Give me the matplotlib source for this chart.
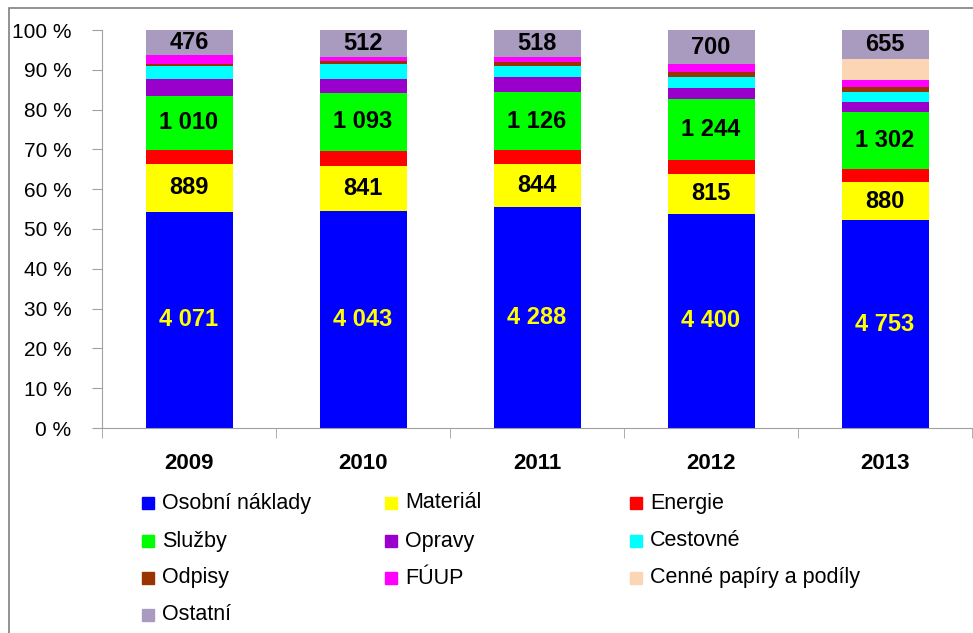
import numpy as np
import matplotlib.pyplot as plt
from matplotlib.patches import Rectangle

# naklady podle druhu (absolutni hodnoty, graf je 100% skladany)
years = ['2009', '2010', '2011', '2012', '2013']
osobni = [4071, 4043, 4288, 4400, 4753]
material = [889, 841, 844, 815, 880]
energie = [276, 275, 263, 288, 290]
sluzby = [1010, 1093, 1126, 1244, 1302]
opravy = [314, 261, 300, 226, 251]
cestovne = [239, 267, 206, 220, 229]
odpisy = [52, 55, 85, 115, 105]
fuup = [157, 70, 97, 158, 153]
cenne = [0, 0, 0, 0, 496]
ostatni = [476, 512, 518, 700, 655]

names = ['Osobní náklady', 'Materiál', 'Energie', 'Služby', 'Opravy',
         'Cestovné', 'Odpisy', 'FÚUP', 'Cenné papíry a podíly', 'Ostatní']
series = [osobni, material, energie, sluzby, opravy, cestovne, odpisy,
          fuup, cenne, ostatni]
colors = ['#0000FF', '#FFFF00', '#FF0000', '#00FF00', '#9900CC', '#00FFFF',
          '#993300', '#FF00FF', '#FCD5B5', '#A99BC0']
labeled = {0: '#FFFF00', 1: 'black', 3: 'black', 9: 'black'}

plt.rcParams['font.family'] = ['Liberation Sans', 'DejaVu Sans']

data = np.array(series, dtype=float)
pct = data / data.sum(axis=0) * 100
x = np.arange(len(years))

fig = plt.figure(figsize=(9.73, 6.33), dpi=100)
ax = fig.add_axes([102/973, 1 - 428/633, 870/973, 398/633])

bottom = np.zeros(len(years))
for i, (name, col) in enumerate(zip(names, colors)):
    ax.bar(x, pct[i], 0.5, bottom=bottom, color=col, label=name, linewidth=0)
    if i in labeled:
        for j in range(len(years)):
            txt = f'{int(data[i, j]):,}'.replace(',', ' ')
            ax.text(x[j], bottom[j] + pct[i, j] / 2, txt, ha='center', va='center',
                    fontsize=17, fontweight='bold', color=labeled[i])
    bottom += pct[i]

ax.set_xlim(-0.5, len(years) - 0.5)
ax.set_ylim(0, 100)
ax.set_yticks(np.arange(0, 101, 10))
ax.set_yticklabels([f'{t} %' for t in range(0, 101, 10)], fontsize=15)
ax.set_xticks(x)
ax.set_xticklabels(years, fontsize=16, fontweight='bold')
ax.set_xticks(np.arange(-0.5, len(years)), minor=True)
ax.tick_params(axis='x', which='major', length=0, pad=18)
ax.tick_params(axis='x', which='minor', length=7, color='#A0A0A0', direction='out')
ax.tick_params(axis='y', length=7, color='#A0A0A0', pad=15)
for s in ['top', 'right']:
    ax.spines[s].set_visible(False)
for s in ['left', 'bottom']:
    ax.spines[s].set_color('#A0A0A0')

# legenda po radcich jako v Excelu
col_x = [142, 385, 630]
row_y = [503, 541, 578, 615]
for i, (name, col) in enumerate(zip(names, colors)):
    r, c = divmod(i, 3)
    fx, fy = col_x[c] / 973, 1 - row_y[r] / 633
    fig.add_artist(Rectangle((fx, fy - 6/633), 12/973, 12/633, color=col,
                             transform=fig.transFigure))
    fig.text(fx + 20/973, fy, name, fontsize=15.5, va='center', ha='left')

fig.add_artist(Rectangle((9/973, -0.1), 1.2, 1 - 8/633 + 0.1, fill=False,
                         edgecolor='#7F7F7F', linewidth=1.2,
                         transform=fig.transFigure))

fig.savefig('out.png', dpi=100)
